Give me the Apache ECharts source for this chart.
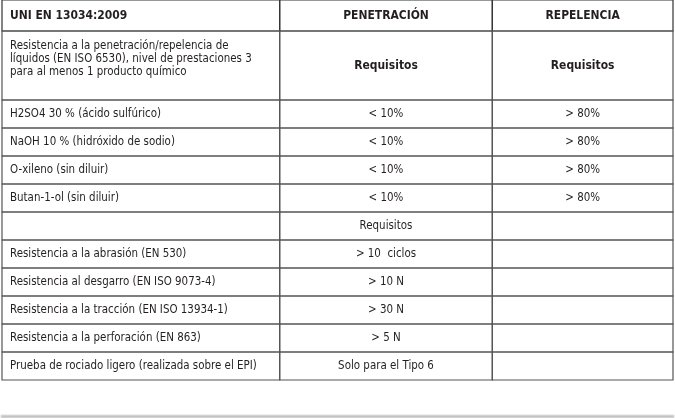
<!DOCTYPE html>
<html>
<head>
<meta charset="utf-8">
<script src="https://cdn.jsdelivr.net/npm/echarts@6/dist/echarts.min.js"></script>
<style>
html,body{margin:0;padding:0;background:#fff;}
#chart{width:675px;height:418px;}
</style>
</head>
<body>
<div id="chart"></div>
<script>
// ---- data ----
const headers = ['UNI EN 13034:2009', 'PENETRACIÓN', 'REPELENCIA'];
const tests = [
  'Resistencia a la penetración/repelencia de\nlíquidos (EN ISO 6530), nivel de prestaciones 3\npara al menos 1 producto químico',
  'H2SO4 30 % (ácido sulfúrico)',
  'NaOH 10 % (hidróxido de sodio)',
  'O-xileno (sin diluir)',
  'Butan-1-ol (sin diluir)',
  '',
  'Resistencia a la abrasión (EN 530)',
  'Resistencia al desgarro (EN ISO 9073-4)',
  'Resistencia a la tracción (EN ISO 13934-1)',
  'Resistencia a la perforación (EN 863)',
  'Prueba de rociado ligero (realizada sobre el EPI)'
];
const penetracion = ['Requisitos', '< 10%', '< 10%', '< 10%', '< 10%', 'Requisitos', '> 10  ciclos', '> 10 N', '> 30 N', '> 5 N', 'Solo para el Tipo 6'];
const repelencia = ['Requisitos', '> 80%', '> 80%', '> 80%', '> 80%', '', '', '', '', '', ''];

// ---- layout (pixels in axis units) ----
const colEdges = [0, 277.7, 490.3, 671];
const rowHeights = [31, 69, 28, 28, 28, 28, 28, 28, 28, 28, 28, 28];
const rowEdges = [0];
rowHeights.forEach(h => rowEdges.push(rowEdges[rowEdges.length - 1] + h));

const FONT = '"Liberation Sans Narrow", "DejaVu Sans Condensed", sans-serif';

// build cells
const cells = [];
const allRows = [headers].concat(tests.map((t, i) => [t, penetracion[i], repelencia[i]]));
allRows.forEach((row, r) => {
  row.forEach((txt, c) => {
    const bold = r === 0 || (r === 1 && c > 0);
    cells.push({ value: [c, r], text: txt, bold: bold });
  });
});

const chart = echarts.init(document.getElementById('chart'), null, { renderer: 'canvas' });
chart.setOption({
  backgroundColor: '#ffffff',
  animation: false,
  grid: { left: 2, right: 2, top: 0, bottom: 38 },
  xAxis: { type: 'value', min: 0, max: 671, show: false },
  yAxis: { type: 'value', min: 0, max: 380, inverse: true, show: false },
  series: [{
    type: 'custom',
    clip: false,
    data: cells.map(c => c.value),
    renderItem: function (params, api) {
      const c = api.value(0), r = api.value(1);
      const p0 = api.coord([colEdges[c], rowEdges[r]]);
      const p1 = api.coord([colEdges[c + 1], rowEdges[r + 1]]);
      const cell = cells[params.dataIndex];
      const left = c === 0;
      const multi = cell.text.indexOf('\n') >= 0;
      return {
        type: 'group',
        children: [
          {
            type: 'rect',
            shape: { x: p0[0], y: p0[1], width: p1[0] - p0[0], height: p1[1] - p0[1] },
            style: { fill: 'none', stroke: r === 0 ? '#333' : '#555', lineWidth: 1.2 }
          },
          {
            type: 'text',
            x: left ? p0[0] + 8 : (p0[0] + p1[0]) / 2,
            y: (p0[1] + p1[1]) / 2 + (multi ? -7 : 0),
            scaleX: cell.bold ? 0.92 : 0.88,
            style: {
              text: cell.text,
              x: 0,
              y: 0,
              align: left ? 'left' : 'center',
              verticalAlign: 'middle',
              font: (cell.bold ? 'bold ' : '') + '13px ' + FONT,
              lineHeight: 13,
              fill: '#231f20'
            }
          }
        ]
      };
    }
  }],
  graphic: [{
    type: 'rect',
    shape: { x: 1, y: 415, width: 673, height: 3 },
    style: { fill: '#c4c4c4', stroke: '#e0e0e0', lineWidth: 1 }
  }]
});
</script>
</body>
</html>
